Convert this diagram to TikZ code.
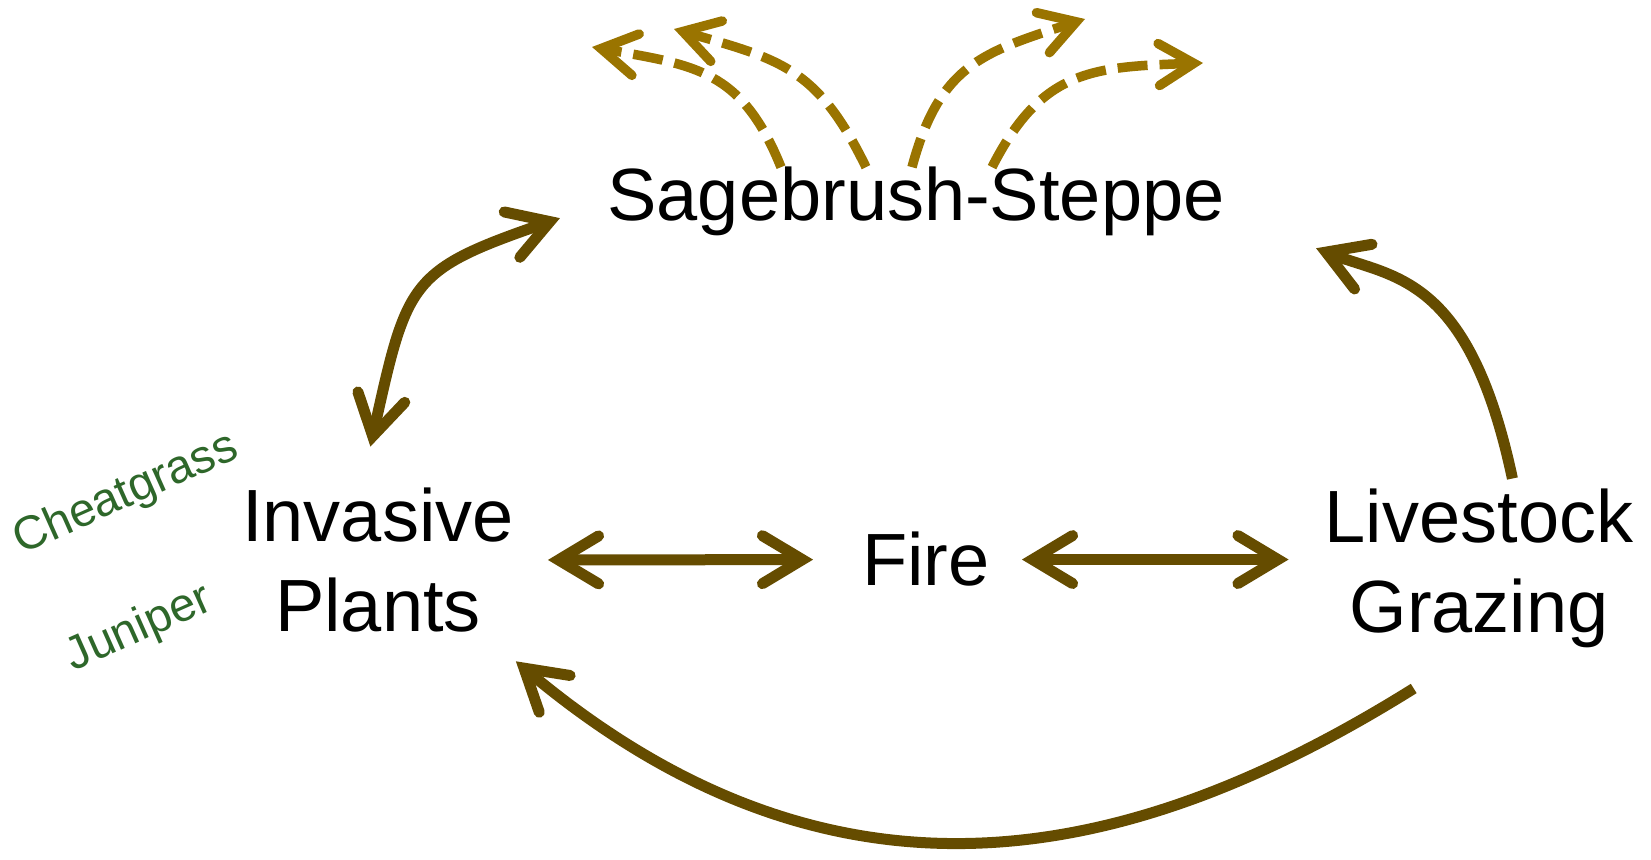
\documentclass[tikz,border=0pt]{standalone}
\usepackage{fontspec}
\setmainfont{Liberation Sans}
\usetikzlibrary{arrows.meta}
\definecolor{linkbrown}{HTML}{654C00}
\definecolor{spreadgold}{HTML}{9A7400}
\definecolor{plantgreen}{HTML}{2E672A}
\tikzset{link/.style={ % solid brown connectors between the parts
			draw=linkbrown,
			line width=11pt,
			>={Straight Barb[length=40pt,width=48pt,line cap=round,line join=miter]}},
		spread/.style={ % dashed arrows leaving the steppe
			draw=spreadgold,
			line width=9.5pt,
			dash pattern=on 30pt off 12pt,
			->,
			>={Straight Barb[length=35pt,width=42pt,line cap=round,line join=miter]}},
		bigtext/.style={font=\fontsize{74}{90}\selectfont, inner sep=0pt, align=center},
		planttext/.style={font=\fontsize{47}{50}\selectfont, text=plantgreen, inner sep=0pt, rotate=24}}

\begin{document}
\begin{tikzpicture}[x=1pt,y=1pt]
			\useasboundingbox (0,0) rectangle (1651,859);
			\node[bigtext, anchor=base] (S) at (916,638) {Sagebrush-Steppe};
			\node[bigtext] (I) at (378,299) {Invasive\\Plants};
			\node[bigtext, anchor=base] (F) at (926,273) {Fire};
			\node[bigtext] (L) at (1479,291) {Livestock\\Grazing};
			\node[planttext] (C) at (126,364) {Cheatgrass};
			\node[planttext] (J) at (139,230) {Juniper};
			
			% where the dashed arrows point to
			\coordinate (a) at (592,812);
			\coordinate (b) at (674,830);
			\coordinate (c) at (1085,840);
			\coordinate (d) at (1203,796);
			
			\draw[link, <->, shorten <=34pt, shorten >=49pt] (I.east) -- (F.west);
			\draw[link, <->, shorten <=32pt, shorten >=36pt] (F.east) -- (F.east -| L.west);
			\draw[link, <->, shorten <=42pt, shorten >=50pt] (I.103) to[out=77.5, in=199, out distance=212pt, in distance=210pt] (S.west);
			\draw[link, ->, shorten <=10pt, shorten >=98pt] (L.66) to[out=102, in=-21.3, out distance=220pt, in distance=180pt] (S.-2.5);
			\draw[link, ->, shorten <=77pt, shorten >=45pt] (L.south) to[out=212, in=-40, out distance=407pt, in distance=465pt] (I.-35);
			
			\draw[spread] ([xshift=-135pt]S.north) to[out=112, in=350, looseness=1.2] (a);
			\draw[spread] ([xshift=-50pt]S.north) to[out=116, in=344, looseness=1.2] (b);
			\draw[spread] ([xshift=-4pt]S.north) to[out=75, in=198, looseness=1.2] (c);
			\draw[spread] ([xshift=76pt]S.north) to[out=63, in=182, looseness=1.2] (d);
		\end{tikzpicture}
\end{document}
